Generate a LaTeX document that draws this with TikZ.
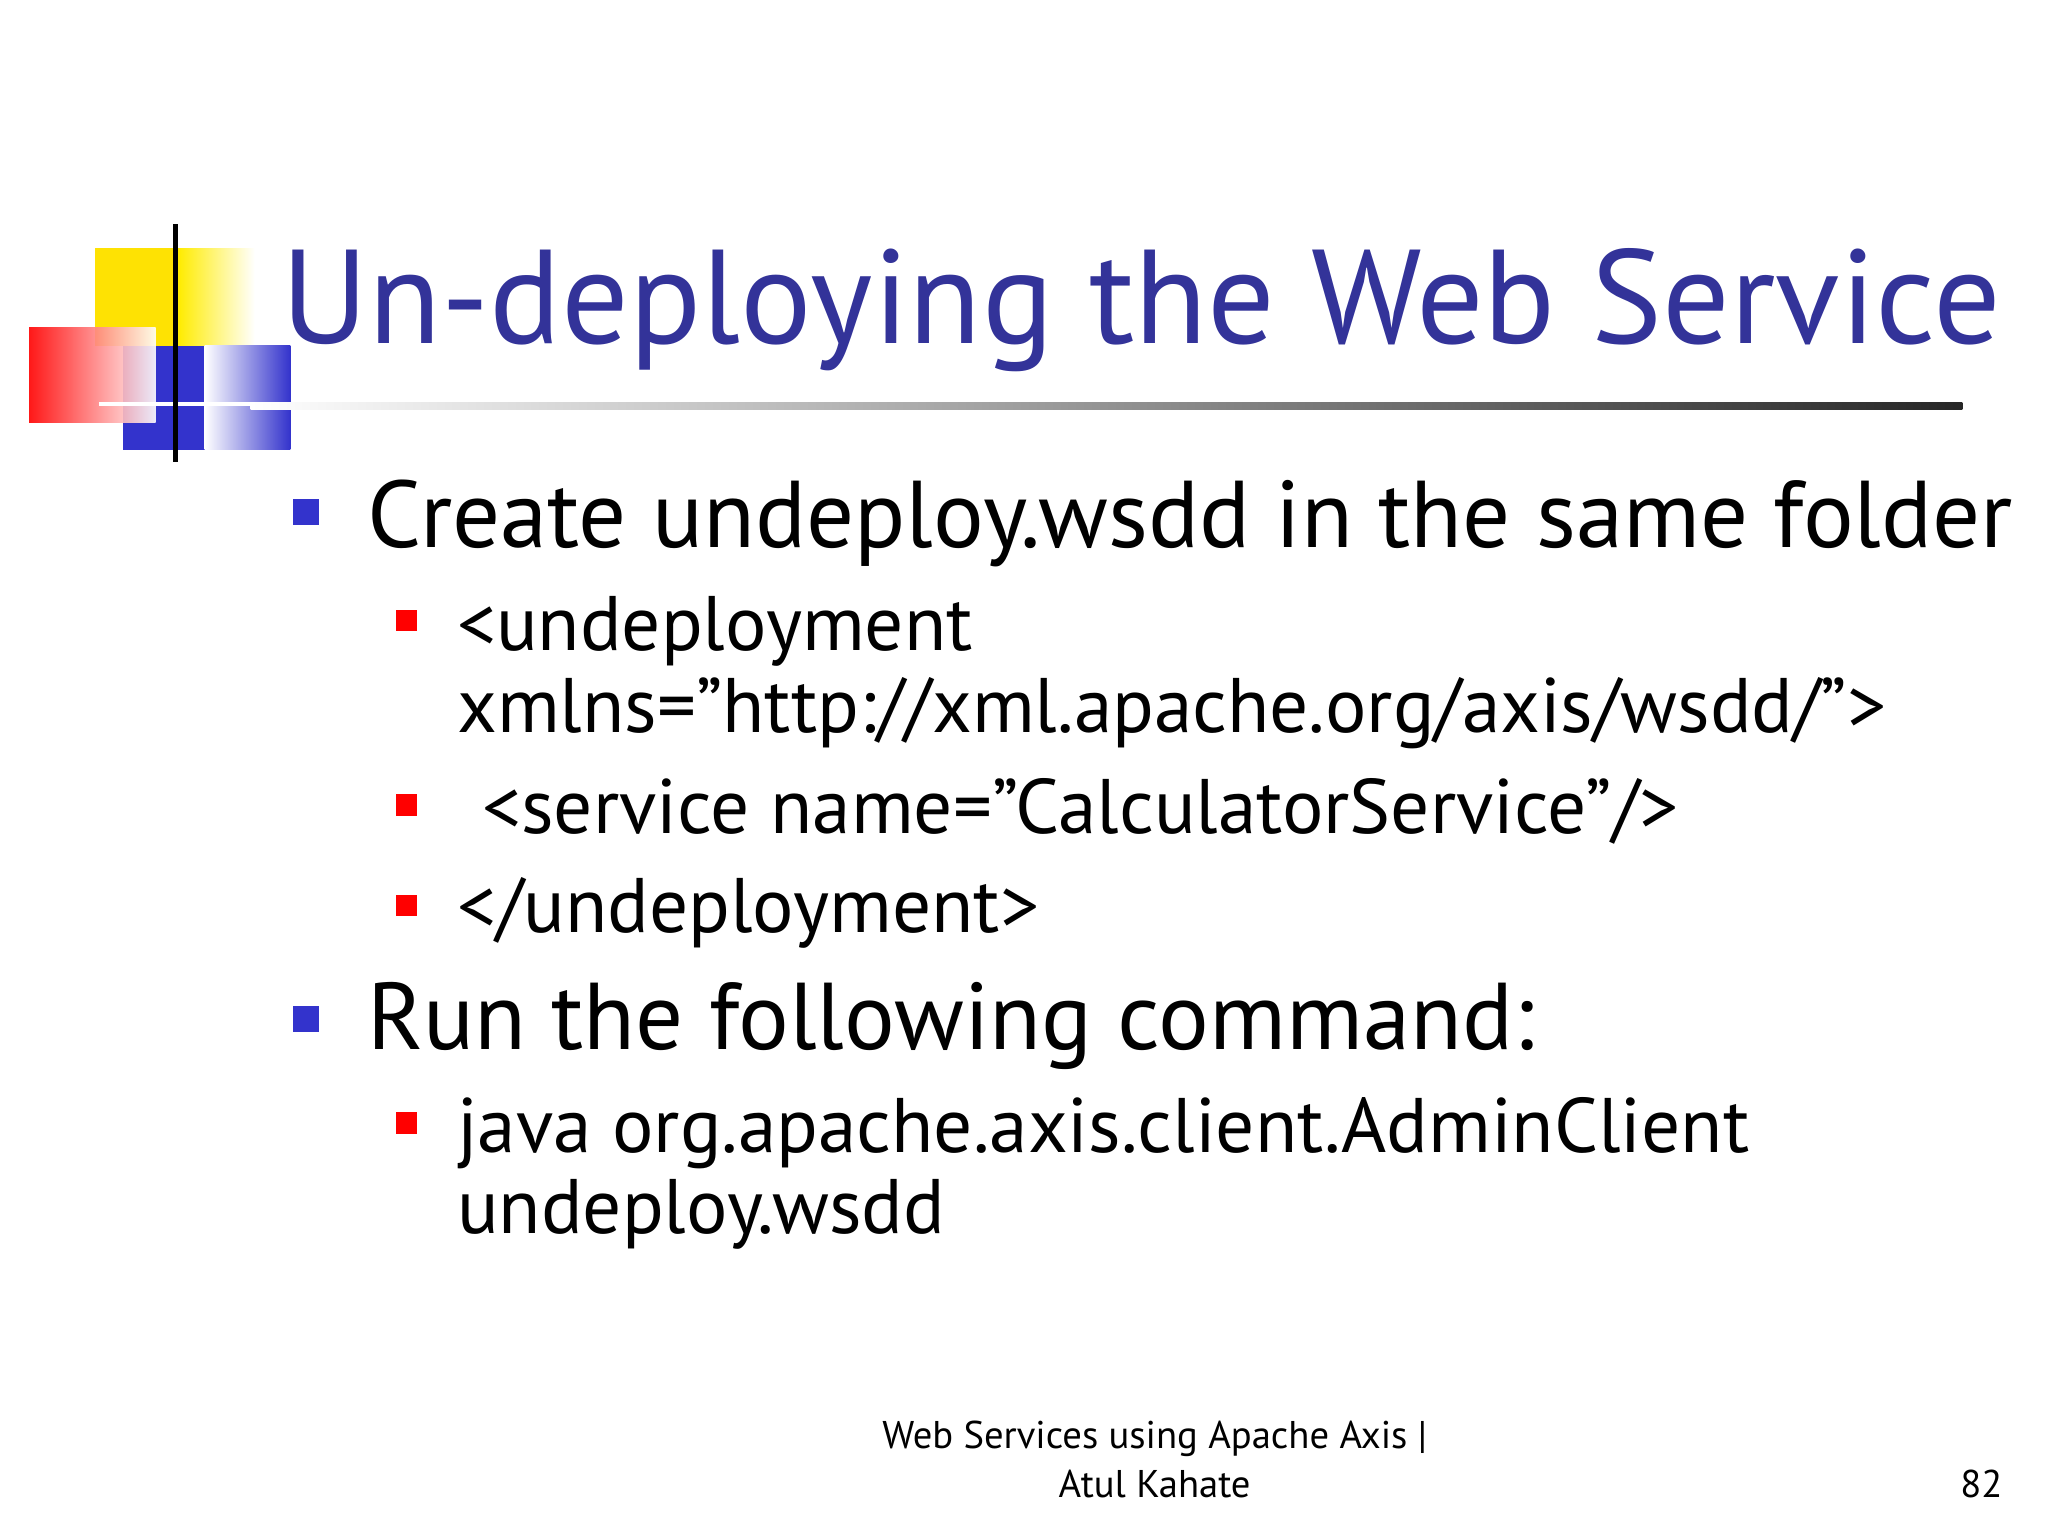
\documentclass[tikz,border=0pt]{standalone}
\usepackage{fontspec}
\setmainfont{PT Sans}
\usetikzlibrary{positioning}
\definecolor{titleblue}{RGB}{51,51,153}
\definecolor{bulblue}{RGB}{51,51,204}
\definecolor{bulred}{RGB}{255,0,0}
\newcommand\qt{\symbol{34}}
\tikzset{
  lvlone/.style = {anchor=base west, inner sep=0pt, font=\fontsize{27}{30}\selectfont},
  lvltwo/.style = {anchor=base west, inner sep=0pt, font=\fontsize{22}{25}\selectfont},
  foot/.style = {inner sep=0pt, font=\fontsize{11}{13}\selectfont}
}
\begin{document}
\begin{tikzpicture}[x=0.01320cm, y=-0.01320cm]
  \useasboundingbox (0,0) rectangle (1552,1164);
  \fill[white] (0,0) rectangle (1552,1164);
  % The logo squares
  \fill[yellow!85!orange] (72,188) rectangle (135,262);
  \shade[left color=yellow!85!orange, right color=white] (135,188) rectangle (193,262);
  \fill[bulblue] (93,262) rectangle (155,341);
  \shade[left color=white, right color=bulblue] (155,262) rectangle (220,341);
  \shade[left color=red, right color=white, opacity=0.9] (22,248) rectangle (118,320);
  \draw[white, line width=1.2pt] (75,306) -- (220,306);
  \draw[black, line width=1.5pt] (133,170) -- (133,350);
  % The title
  \node[anchor=base west, inner sep=0pt, text=titleblue, font=\fontsize{38}{42}\selectfont] (title) at (213,260) {Un-deploying the Web Service};
  \shade[left color=white, right color=black!85] (190,305) rectangle (1487,310);
  % The bullets
  \foreach \y in {378,762} \fill[bulblue] (222,\y) rectangle +(20,20);
  \foreach \y in {462,602,678,843} \fill[bulred] (300,\y) rectangle +(16,16);
  \node[lvlone] (create) at (278,415) {Create undeploy.wsdd in the same folder};
  \node[lvltwo] (undep) at (346,493) {<undeployment};
  \node[lvltwo] (xmlns) at (346,555) {xmlns=\qt http://xml.apache.org/axis/wsdd/\qt>};
  \node[lvltwo] (service) at (365,632) {<service name=\qt CalculatorService\qt/>};
  \node[lvltwo] (endundep) at (346,707) {</undeployment>};
  \node[lvlone] (run) at (278,795) {Run the following command:};
  \node[lvltwo] (java) at (346,873) {java org.apache.axis.client.AdminClient};
  \node[lvltwo] (wsdd) at (346,935) {undeploy.wsdd};
  % The footer
  \node[foot, anchor=base] (footone) at (875,1098) {Web Services using Apache Axis |};
  \node[foot, anchor=base] (foottwo) at (875,1135) {Atul Kahate};
  \node[foot, anchor=base east] (page) at (1518,1135) {82};
\end{tikzpicture}
\end{document}
